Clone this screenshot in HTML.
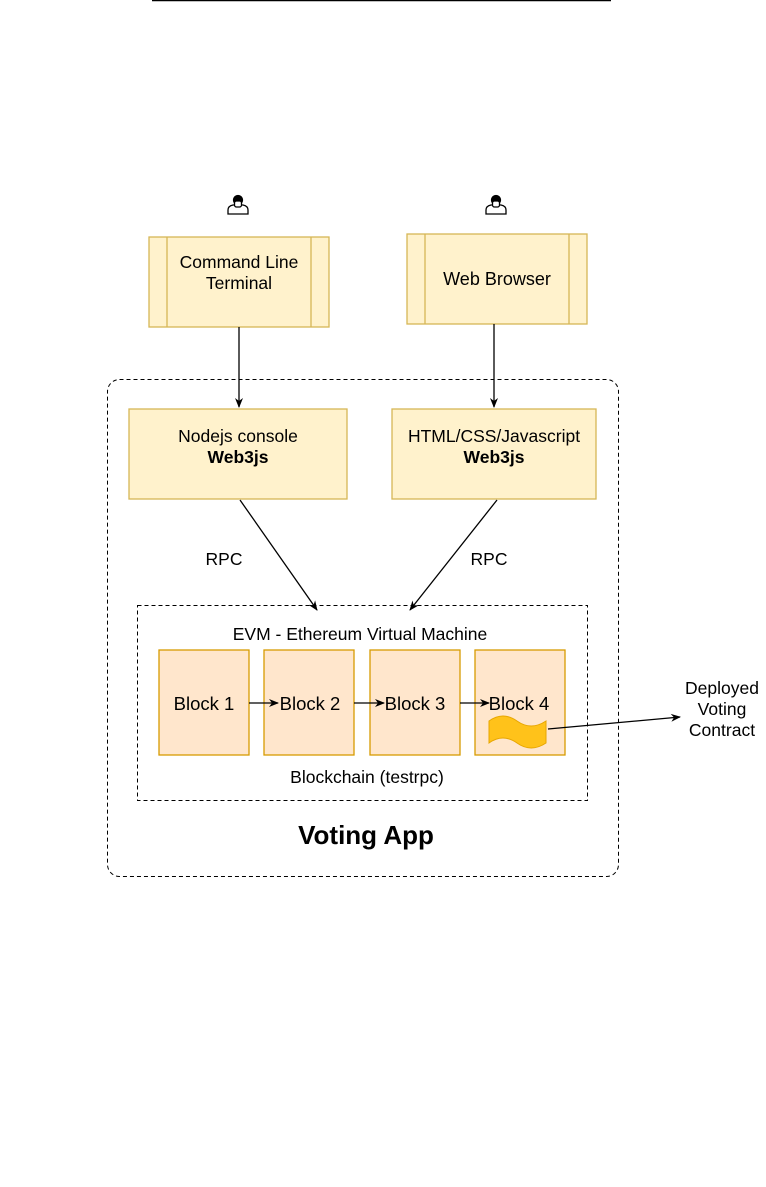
<!DOCTYPE html>
<html><head><style>
body{margin:0;background:#fff;}
svg{display:block;font-family:"Liberation Sans",sans-serif;}
</style></head><body>
<svg width="766" height="1187" viewBox="0 0 766 1187" xmlns="http://www.w3.org/2000/svg">
<defs><marker id="a" markerWidth="10" markerHeight="10" refX="9" refY="5" orient="auto" markerUnits="userSpaceOnUse"><path d="M0,1 L10,5 L0,9 L3,5z" fill="#000"/></marker></defs>
<line x1="152" y1="0.5" x2="611" y2="0.5" stroke="#000" stroke-width="1.5"/>
<g fill="#fff" stroke="#000" stroke-width="1.3">
<path d="M228,214 v-4 q0,-4 5,-5 h10 q5,1 5,5 v4z"/><circle cx="238" cy="200" r="4.5" fill="#000"/><rect x="234.5" y="201" width="7" height="6" rx="2"/>
<path d="M486,214 v-4 q0,-4 5,-5 h10 q5,1 5,5 v4z"/><circle cx="496" cy="200" r="4.5" fill="#000"/><rect x="492.5" y="201" width="7" height="6" rx="2"/>
</g>
<g fill="#fff2cc" stroke="#d6b656" stroke-width="1.3">
<rect x="149" y="237" width="180" height="90"/><line x1="167" y1="237" x2="167" y2="327"/><line x1="311" y1="237" x2="311" y2="327"/>
<rect x="407" y="234" width="180" height="90"/><line x1="425" y1="234" x2="425" y2="324"/><line x1="569" y1="234" x2="569" y2="324"/>
</g>
<g font-size="17.5" text-anchor="middle" fill="#000">
<text x="239" y="268">Command Line</text><text x="239" y="289">Terminal</text>
<text x="497" y="285" font-size="18">Web Browser</text>
</g>
<rect x="107.5" y="379.5" width="511" height="497" rx="12" fill="none" stroke="#000" stroke-dasharray="4,3"/>
<g fill="#fff2cc" stroke="#d6b656" stroke-width="1.3">
<rect x="129" y="409" width="218" height="90"/><rect x="392" y="409" width="204" height="90"/>
</g>
<g font-size="17.5" text-anchor="middle">
<text x="238" y="442">Nodejs console</text><text x="238" y="463" font-weight="bold">Web3js</text>
<text x="494" y="442">HTML/CSS/Javascript</text><text x="494" y="463" font-weight="bold">Web3js</text>
<text x="224" y="565">RPC</text><text x="489" y="565">RPC</text>
</g>
<g stroke="#000" stroke-width="1.3" marker-end="url(#a)">
<line x1="239" y1="327" x2="239" y2="407"/><line x1="494" y1="324" x2="494" y2="407"/>
<line x1="240" y1="500" x2="317" y2="610"/><line x1="497" y1="500" x2="410" y2="610"/>
</g>
<rect x="137.5" y="605.5" width="450" height="195" fill="none" stroke="#000" stroke-dasharray="4,3"/>
<text x="360" y="640" font-size="17.5" text-anchor="middle">EVM - Ethereum Virtual Machine</text>
<g fill="#ffe6cc" stroke="#d79b00" stroke-width="1.3">
<rect x="159" y="650" width="90" height="105"/><rect x="264" y="650" width="90" height="105"/>
<rect x="370" y="650" width="90" height="105"/><rect x="475" y="650" width="90" height="105"/>
</g>
<g font-size="18.5" text-anchor="middle">
<text x="204" y="710">Block 1</text><text x="310" y="710">Block 2</text><text x="415" y="710">Block 3</text><text x="519" y="710">Block 4</text>
</g>
<g stroke="#000" stroke-width="1.3" marker-end="url(#a)">
<line x1="249" y1="703" x2="278" y2="703"/><line x1="354" y1="703" x2="384" y2="703"/><line x1="460" y1="703" x2="489" y2="703"/>
</g>
<path d="M489,721 q14,-10 28,0 q14,10 29,0 v22 q-15,10 -29,0 q-14,-10 -28,0z" fill="#ffc21a" stroke="#e7a600"/>
<line x1="548" y1="729" x2="680" y2="717" stroke="#000" stroke-width="1.3" marker-end="url(#a)"/>
<g font-size="17.5" text-anchor="middle">
<text x="722" y="694">Deployed</text><text x="722" y="715">Voting</text><text x="722" y="736">Contract</text>
<text x="367" y="783">Blockchain (testrpc)</text>
</g>
<text x="366" y="844" font-size="26" font-weight="bold" text-anchor="middle">Voting App</text>
</svg>
</body></html>
